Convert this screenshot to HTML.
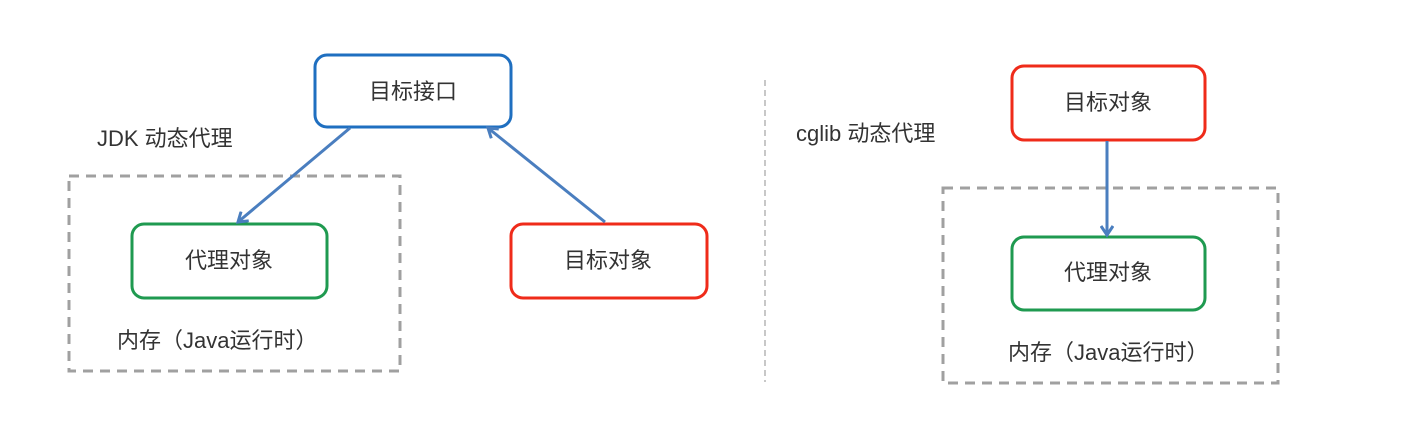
<!DOCTYPE html>
<html><head><meta charset="utf-8"><style>
body{margin:0;background:#fff;}
svg text{font-family:"Liberation Sans","Noto Sans CJK SC",sans-serif;font-size:22px;fill:#333;}
</style></head><body>
<svg width="1417" height="432" viewBox="0 0 1417 432" xmlns="http://www.w3.org/2000/svg">
<defs>
<marker id="ah" markerWidth="14" markerHeight="14" refX="10" refY="7" orient="auto" markerUnits="userSpaceOnUse">
<path d="M1,1 L10,7 L1,13" fill="none" stroke="#4a7ebf" stroke-width="3"/>
</marker>
</defs>
<rect width="1417" height="432" fill="#fff"/>
<!-- left -->
<rect x="69" y="176" width="331" height="195" fill="none" stroke="#a0a0a0" stroke-width="3" stroke-dasharray="10,7"/>
<rect x="315" y="55" width="196" height="72" rx="12" fill="#fff" stroke="#1f6fc0" stroke-width="3"/>
<text x="413" y="99" text-anchor="middle">目标接口</text>
<rect x="132" y="224" width="195" height="74" rx="12" fill="#fff" stroke="#1f9a50" stroke-width="3"/>
<text x="229" y="268" text-anchor="middle">代理对象</text>
<rect x="511" y="224" width="196" height="74" rx="12" fill="#fff" stroke="#ef2b1a" stroke-width="3"/>
<text x="608" y="268" text-anchor="middle">目标对象</text>
<line x1="350" y1="128" x2="238" y2="222" stroke="#4a7ebf" stroke-width="3" marker-end="url(#ah)"/>
<line x1="605" y1="222" x2="488" y2="128" stroke="#4a7ebf" stroke-width="3" marker-end="url(#ah)"/>
<text x="97" y="146">JDK 动态代理</text>
<text x="117" y="348">内存（Java运行时）</text>
<!-- divider -->
<line x1="765" y1="80" x2="765" y2="382" stroke="#c8c8c8" stroke-width="2" stroke-dasharray="6,4"/>
<!-- right -->
<rect x="943" y="188" width="335" height="195" fill="none" stroke="#a0a0a0" stroke-width="3" stroke-dasharray="10,7"/>
<rect x="1012" y="66" width="193" height="74" rx="12" fill="#fff" stroke="#ef2b1a" stroke-width="3"/>
<text x="1108" y="110" text-anchor="middle">目标对象</text>
<rect x="1012" y="237" width="193" height="73" rx="12" fill="#fff" stroke="#1f9a50" stroke-width="3"/>
<text x="1108" y="280" text-anchor="middle">代理对象</text>
<line x1="1107" y1="141" x2="1107" y2="235" stroke="#4a7ebf" stroke-width="3" marker-end="url(#ah)"/>
<text x="796" y="141">cglib 动态代理</text>
<text x="1008" y="360">内存（Java运行时）</text>
</svg>
</body></html>
